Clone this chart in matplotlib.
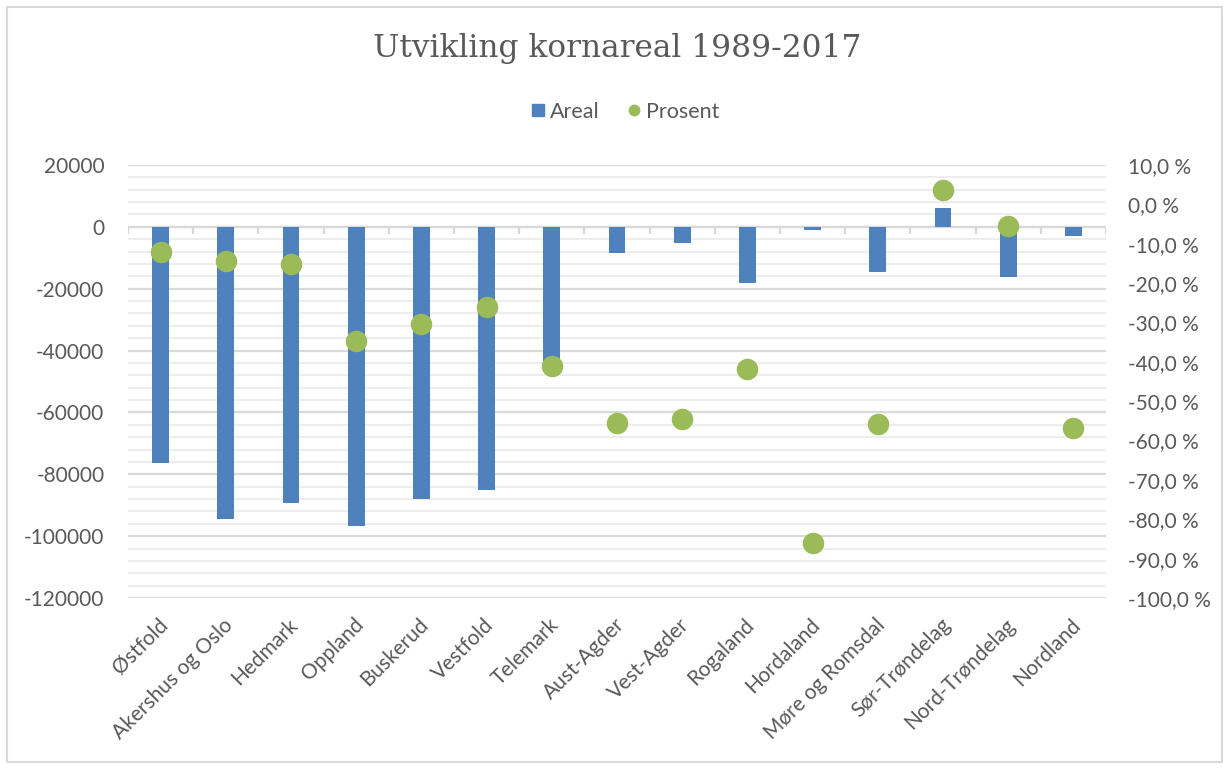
import numpy as np
import matplotlib
matplotlib.use("Agg")
import matplotlib.pyplot as plt
from matplotlib.ticker import MultipleLocator, FuncFormatter
from matplotlib.lines import Line2D
from matplotlib.patches import Rectangle
import matplotlib.transforms as mtransforms

categories = ["Østfold", "Akershus og Oslo", "Hedmark", "Oppland", "Buskerud",
              "Vestfold", "Telemark", "Aust-Agder", "Vest-Agder", "Rogaland",
              "Hordaland", "Møre og Romsdal", "Sør-Trøndelag", "Nord-Trøndelag",
              "Nordland"]
areal = [-76300, -94500, -89200, -96700, -88000, -85000, -44000, -8500,
         -5200, -18000, -1000, -14600, 6000, -16300, -3100]
prosent = [-12.1, -14.4, -15.1, -34.6, -30.3, -26.1, -41.1, -55.5,
           -54.5, -41.8, -86.1, -55.8, 3.6, -5.6, -56.8]

BLUE = "#4F81BD"
GREEN = "#9BBB59"
TXT = "#595959"
FONT = "Lato"

fig = plt.figure(figsize=(12.29, 7.69), dpi=100)
fig.patch.set_facecolor("white")
ax = fig.add_axes([128/1229, 1-598/769, (1106-128)/1229, (598-165)/769])

n = len(categories)
x = np.arange(n)
ax.bar(x, areal, width=0.26, color=BLUE, zorder=3)

ax.set_xlim(-0.5, n-0.5)
ax.set_ylim(-120000, 20000)
ax.yaxis.set_major_locator(MultipleLocator(20000))
ax.yaxis.set_minor_locator(MultipleLocator(4000))
ax.yaxis.set_major_formatter(FuncFormatter(lambda v, p: f"{int(round(v))}"))
ax.grid(axis="y", which="minor", color="#EDEDED", linewidth=1.5, zorder=0)
ax.grid(axis="y", which="major", color="#D9D9D9", linewidth=1.6, zorder=0)
ax.set_axisbelow(True)
for s in ax.spines.values():
    s.set_visible(False)
ax.tick_params(axis="y", which="both", length=0, pad=17, labelsize=15, labelcolor=TXT)
for t in ax.get_yticklabels():
    t.set_fontfamily(FONT)

# zero axis line with category-boundary ticks
ax.axhline(0, color="#D9D9D9", linewidth=1.6, zorder=2)
ax.vlines(np.arange(n+1)-0.5, -2200, 0, color="#D9D9D9", linewidth=1.6, zorder=2)

ax.set_xticks(x)
ax.set_xticklabels(categories, rotation=45, ha="right", rotation_mode="anchor",
                   fontsize=15, color=TXT, fontfamily=FONT)
ax.tick_params(axis="x", length=0, pad=12)
off = mtransforms.ScaledTranslation(-3/100, 0, fig.dpi_scale_trans)
for t in ax.get_xticklabels():
    t.set_transform(t.get_transform() + off)

ax2 = ax.twinx()
ax2.plot(x, prosent, linestyle="none", marker="o", markersize=15.5,
         color=GREEN, markeredgewidth=0, zorder=5)
ax2.set_ylim(-100, 10)
ax2.yaxis.set_major_locator(MultipleLocator(10))
ax2.yaxis.set_major_formatter(FuncFormatter(lambda v, p: f"{v:.1f} %".replace(".", ",")))
for s in ax2.spines.values():
    s.set_visible(False)
ax2.tick_params(axis="y", length=0, pad=16, labelsize=15, labelcolor=TXT)
for t in ax2.get_yticklabels():
    t.set_fontfamily(FONT)

fig.text(617/1229, 1-48/769, "Utvikling kornareal 1989-2017", ha="center", va="center",
         fontsize=22.5, color=TXT, fontfamily="DejaVu Serif")

handles = [Line2D([], [], linestyle="none", marker="s", markersize=8.5, color=BLUE),
           Line2D([], [], linestyle="none", marker="o", markersize=8.5, color=GREEN, markeredgewidth=0)]
fig.legend(handles, ["Areal", "Prosent"], loc="center", bbox_to_anchor=(623/1229, 1-112/769),
           ncol=2, frameon=False, prop={"family": FONT, "size": 15.5}, labelcolor=TXT,
           handletextpad=0.05, columnspacing=1.1, handlelength=1.0)

fig.patches.append(Rectangle((7/1229, 7/769), 1215/1229, 755/769, transform=fig.transFigure,
                             fill=False, edgecolor="#D9D9D9", linewidth=1.5))

fig.savefig("out.png", dpi=100)
